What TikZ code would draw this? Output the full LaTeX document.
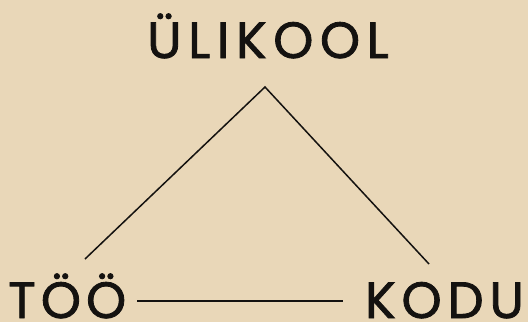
\documentclass[tikz,border=0pt]{standalone}
\usepackage{fontspec}
\setmainfont{Poppins}
\newfontfamily\spacedA[LetterSpace=13,FakeBold=1.6]{Poppins}
\newfontfamily\spacedB[LetterSpace=10,FakeBold=1.6]{Poppins}
\newfontfamily\spacedC[LetterSpace=11.5,FakeBold=1.6]{Poppins}
\definecolor{paper}{RGB}{233,215,184}
\definecolor{ink}{RGB}{20,18,16}
\begin{document}
\begin{tikzpicture}[x=1pt,y=-1pt,
  word/.style={inner sep=0pt,text=ink,text depth=0pt,anchor=base west},
  link/.style={draw=ink,line width=1.5pt}]
\fill[paper] (0,0) rectangle (528,322);
\useasboundingbox (0,0) rectangle (528,322);
\node[word,font=\spacedA\fontsize{51}{51}\selectfont] (uli) at (147,58) {ÜLIKOOL};
\node[word,font=\spacedB\fontsize{51}{51}\selectfont] (too) at (8,318) {TÖÖ};
\node[word,font=\spacedC\fontsize{51}{51}\selectfont] (kodu) at (365,318) {KODU};
\coordinate (apex) at (265,87);
\coordinate (l) at (85,259);
\coordinate (r) at (429,264);
\coordinate (h1) at (137,301);
\coordinate (h2) at (343,301);
\draw[link] (l) -- (apex) -- (r);
\draw[link] (h1) -- (h2);
\end{tikzpicture}
\end{document}
